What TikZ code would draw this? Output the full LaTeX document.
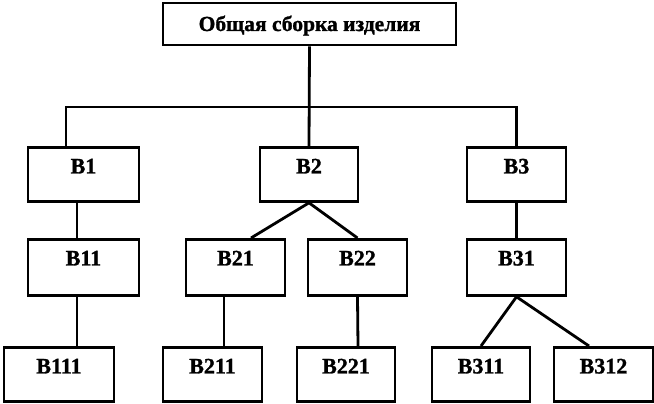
\documentclass[tikz,border=0pt]{standalone}
\usepackage{fontspec}
\setmainfont{Liberation Serif}
\newfontfamily\heavyfont{Liberation Serif Bold}[FakeBold=1.2]
\usepackage{tikz}
\tikzset{
  unit/.style={
    rectangle,
    draw=black, line width=2.8pt,
    font=\heavyfont\fontsize{22}{24}\selectfont,
    inner xsep=0pt, inner ysep=0pt,
    text height=26pt,
    text depth=28pt},
  topunit/.style={
    unit,
    minimum width=293pt,
    font=\heavyfont\fontsize{21.5}{24}\selectfont,
    text height=28pt,
    text depth=14pt},
  line/.style={draw, line width=2.8pt},
}

\begin{document}
\begin{tikzpicture}[x=1pt, y=-1pt]
     \useasboundingbox (0,0) rectangle (654,404);
     % top
     \node[topunit] (Assembly) at (309.5,24) {Общая сборка изделия};
     % first level
     \node[unit, minimum width=111pt, anchor=north] (B1) at (83.5,146) {В1};
     \node[unit, minimum width=98pt,  anchor=north] (B2) at (309,146)  {В2};
     \node[unit, minimum width=99pt,  anchor=north] (B3) at (516.5,146) {В3};
     % second level
     \node[unit, minimum width=111pt, anchor=north, text depth=30pt] (B11) at (83.5,238) {В11};
     \node[unit, minimum width=99pt,  anchor=north, text depth=30pt] (B21) at (235.5,238) {В21};
     \node[unit, minimum width=99pt,  anchor=north, text depth=30pt] (B22) at (357.5,238) {В22};
     \node[unit, minimum width=99pt,  anchor=north, text depth=30pt] (B31) at (516.5,238) {В31};
     % third level
     \node[unit, minimum width=110pt, anchor=north] (B111) at (59,346)   {В111};
     \node[unit, minimum width=99pt,  anchor=north] (B211) at (212.5,346) {В211};
     \node[unit, minimum width=98pt,  anchor=north] (B221) at (346,346)  {В221};
     \node[unit, minimum width=98pt,  anchor=north] (B311) at (481,346)  {В311};
     \node[unit, minimum width=99pt,  anchor=north] (B312) at (603.5,346) {В312};
     % bus
     \coordinate (BusLeft)  at (66,107);
     \coordinate (BusRight) at (516.5,107);
     \path[line] (Assembly.south) -- (B2.north);
     \path[line] (B1.north -| BusLeft) -- (BusLeft) -- (BusRight) -- (B3.north);
     % links
     \path[line] ([xshift=-6.5pt]B1.south) -- ([xshift=-6.5pt]B11.north);
     \path[line] ([xshift=-6.5pt]B11.south) -- ([xshift=18pt]B111.north);
     \path[line] (B2.south) -- ([xshift=15.5pt]B21.north);
     \path[line] (B2.south) -- (B22.north);
     \path[line] ([xshift=-11.5pt]B21.south) -- ([xshift=11.5pt]B211.north);
     \path[line] (B22.south) -- ([xshift=12pt]B221.north);
     \path[line] (B3.south) -- (B31.north);
     \path[line] (B31.south) -- (B311.north);
     \path[line] (B31.south) -- ([xshift=-14.5pt]B312.north);
\end{tikzpicture}
\end{document}
